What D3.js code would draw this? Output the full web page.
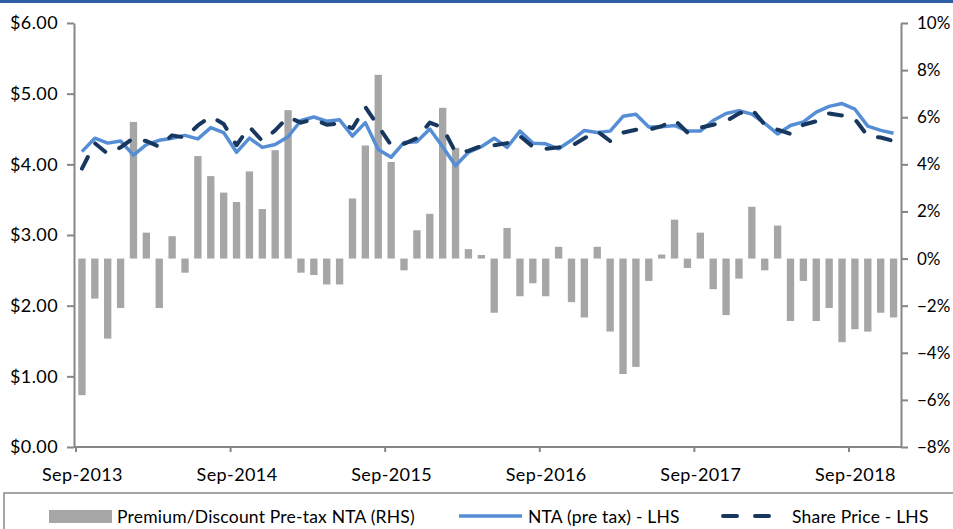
<!DOCTYPE html>
<html>
<head>
<meta charset="utf-8">
<script src="https://cdn.jsdelivr.net/npm/d3@7"></script>
<style>
  html, body { margin: 0; padding: 0; background: #fff; }
  svg { display: block; }
  text { font-family: Lato, "Open Sans", sans-serif; fill: #000; }
</style>
</head>
<body>
<svg id="chart" width="953" height="529"></svg>
<script>
const months = [
  "Sep-2013","Oct-2013","Nov-2013","Dec-2013",
  "Jan-2014","Feb-2014","Mar-2014","Apr-2014","May-2014","Jun-2014","Jul-2014","Aug-2014","Sep-2014","Oct-2014","Nov-2014","Dec-2014",
  "Jan-2015","Feb-2015","Mar-2015","Apr-2015","May-2015","Jun-2015","Jul-2015","Aug-2015","Sep-2015","Oct-2015","Nov-2015","Dec-2015",
  "Jan-2016","Feb-2016","Mar-2016","Apr-2016","May-2016","Jun-2016","Jul-2016","Aug-2016","Sep-2016","Oct-2016","Nov-2016","Dec-2016",
  "Jan-2017","Feb-2017","Mar-2017","Apr-2017","May-2017","Jun-2017","Jul-2017","Aug-2017","Sep-2017","Oct-2017","Nov-2017","Dec-2017",
  "Jan-2018","Feb-2018","Mar-2018","Apr-2018","May-2018","Jun-2018","Jul-2018","Aug-2018","Sep-2018","Oct-2018","Nov-2018","Dec-2018"
];

// Premium/Discount to pre-tax NTA (%)
const premium = [
  -5.8, -1.7, -3.4, -2.1, 5.8, 1.1, -2.1, 0.95, -0.6, 4.35, 3.5, 2.8,
  2.4, 3.7, 2.1, 4.6, 6.3, -0.6, -0.7, -1.1, -1.1, 2.55, 4.8, 7.8,
  4.1, -0.5, 1.2, 1.9, 6.4, 4.7, 0.4, 0.15, -2.3, 1.3, -1.6, -1.05,
  -1.6, 0.5, -1.85, -2.5, 0.5, -3.1, -4.9, -4.6, -0.95, 0.17, 1.65, -0.4,
  1.1, -1.3, -2.4, -0.85, 2.2, -0.5, 1.4, -2.65, -0.95, -2.65, -2.1, -3.55,
  -3.0, -3.1, -2.3, -2.5
];

// NTA (pre tax) $
const nta = [
  4.18, 4.37, 4.30, 4.33, 4.13, 4.28, 4.34, 4.37, 4.41, 4.36, 4.52, 4.45,
  4.17, 4.37, 4.24, 4.28, 4.39, 4.62, 4.67, 4.61, 4.63, 4.40, 4.59, 4.21,
  4.10, 4.31, 4.32, 4.50, 4.25, 3.98, 4.17, 4.25, 4.37, 4.24, 4.47, 4.30,
  4.29, 4.22, 4.34, 4.48, 4.45, 4.47, 4.68, 4.71, 4.53, 4.53, 4.55, 4.47,
  4.47, 4.62, 4.72, 4.76, 4.71, 4.58, 4.43, 4.55, 4.60, 4.74, 4.82, 4.86,
  4.78, 4.54, 4.48, 4.44
];

// Share price $
const sharePrice = [
  3.94, 4.30, 4.15, 4.24, 4.37, 4.33, 4.25, 4.41, 4.38, 4.55, 4.68, 4.57,
  4.27, 4.53, 4.33, 4.48, 4.67, 4.59, 4.64, 4.56, 4.58, 4.51, 4.81, 4.54,
  4.27, 4.29, 4.37, 4.59, 4.52, 4.17, 4.19, 4.26, 4.27, 4.30, 4.40, 4.25,
  4.22, 4.24, 4.26, 4.37, 4.47, 4.33, 4.45, 4.49, 4.49, 4.54, 4.63, 4.45,
  4.52, 4.56, 4.61, 4.72, 4.78, 4.56, 4.49, 4.43, 4.56, 4.61, 4.72, 4.69,
  4.64, 4.40, 4.38, 4.33
];

const xTickLabels = ["Sep-2013","Sep-2014","Sep-2015","Sep-2016","Sep-2017","Sep-2018"];
const leftTicks = [0, 1, 2, 3, 4, 5, 6];
const rightTicks = [-0.08, -0.06, -0.04, -0.02, 0, 0.02, 0.04, 0.06, 0.08, 0.10];

const legendLabels = ["Premium/Discount Pre-tax NTA (RHS)", "NTA (pre tax) - LHS", "Share Price - LHS"];

// ---- layout ----
const W = 953, H = 529;
const plotL = 74, plotR = 901, plotT = 23, plotB = 447;
const colBar = "#A6A6A6", colNta = "#558ED5", colSp = "#17375E", colAxis = "#868686";

const svg = d3.select("#chart");

// top blue rule
svg.append("rect").attr("x", 0).attr("y", 0).attr("width", W).attr("height", 3).attr("fill", "#2E5EA6");

const x = d3.scaleLinear().domain([0, months.length]).range([plotL + 1.5, plotR - 1]);
const step = x(1) - x(0);
const bw = step * 0.57;
const yL = d3.scaleLinear().domain([0, 6]).range([plotB, plotT]);
const yR = d3.scaleLinear().domain([-0.08, 0.10]).range([plotB, plotT]);

const g = svg.append("g");

// bars
g.selectAll("rect.bar").data(premium).join("rect")
  .attr("class", "bar")
  .attr("x", (d, i) => x(i + 0.5) - bw / 2)
  .attr("width", bw)
  .attr("y", d => yR(Math.max(0, d / 100)))
  .attr("height", d => Math.abs(yR(d / 100) - yR(0)))
  .attr("fill", colBar);

// axes
function styleAxis(sel, size, ls) {
  sel.selectAll("path.domain").attr("stroke", colAxis).attr("stroke-width", 2);
  sel.selectAll(".tick line").attr("stroke", colAxis).attr("stroke-width", 2);
  sel.selectAll("text").attr("font-size", size).attr("letter-spacing", ls)
    .attr("font-family", "Lato, 'Open Sans', sans-serif").attr("fill", "#000");
}

const axL = d3.axisLeft(yL).tickValues(leftTicks).tickSize(7).tickPadding(9)
  .tickFormat(d => "$" + d.toFixed(2)).tickSizeOuter(0);
const gL = svg.append("g").attr("transform", `translate(${plotL},0)`).call(axL);
styleAxis(gL, 18, "0.4px");

const axR = d3.axisRight(yR).tickValues(rightTicks).tickSize(7).tickPadding(9)
  .tickFormat(d3.format(".0%")).tickSizeOuter(0);
const gR = svg.append("g").attr("transform", `translate(${plotR},0)`).call(axR);
styleAxis(gR, 17, "0px");

// x axis line + ticks at category boundaries, labels at category centre
const xLine = d3.scaleLinear().domain([0, 1]).range([plotL, plotR]);
const gX = svg.append("g").attr("transform", `translate(0,${plotB})`);
gX.append("line").attr("x1", xLine(0)).attr("x2", xLine(1)).attr("stroke", colAxis).attr("stroke-width", 2);
const tickIdx = xTickLabels.map(l => months.indexOf(l));
const axXTicks = d3.axisBottom(x).tickValues(tickIdx).tickSize(5).tickFormat("").tickSizeOuter(0);
const gXT = gX.append("g").call(axXTicks);
gXT.select("path.domain").remove();
styleAxis(gXT, 18, "0.4px");
const axXLab = d3.axisBottom(x).tickValues(tickIdx.map(i => i + 0.5)).tickSize(0).tickPadding(21)
  .tickFormat(d => months[Math.floor(d)]).tickSizeOuter(0);
const gXL = gX.append("g").call(axXLab);
gXL.select("path.domain").remove();
styleAxis(gXL, 18, "0.4px");

// lines
const lineGen = d3.line().x((d, i) => x(i + 0.5)).y(d => yL(d));
g.append("path").datum(nta).attr("d", lineGen)
  .attr("fill", "none").attr("stroke", colNta).attr("stroke-width", 3.5).attr("stroke-linejoin", "round");
g.append("path").datum(sharePrice).attr("d", lineGen)
  .attr("fill", "none").attr("stroke", colSp).attr("stroke-width", 4)
  .attr("stroke-linecap", "round").attr("stroke-linejoin", "round")
  .attr("stroke-dasharray", "13,16");

// legend
svg.append("rect").attr("x", 4).attr("y", 493).attr("width", W + 10).attr("height", 60)
  .attr("fill", "#fff").attr("stroke", colAxis).attr("stroke-width", 1.5);
const lg = svg.append("g");
const ly = 517;
function legText(xp, t) {
  lg.append("text").attr("x", xp).attr("y", ly).attr("dy", "0.35em")
    .attr("font-size", 17.5).attr("letter-spacing", "0.2px").text(t);
}
lg.append("rect").attr("x", 49).attr("y", ly - 7).attr("width", 63).attr("height", 13).attr("fill", colBar);
legText(117, legendLabels[0]);
lg.append("line").attr("x1", 459).attr("x2", 522).attr("y1", ly - 1).attr("y2", ly - 1)
  .attr("stroke", colNta).attr("stroke-width", 3.5);
legText(528, legendLabels[1]);
lg.append("line").attr("x1", 723).attr("x2", 775).attr("y1", ly - 1).attr("y2", ly - 1)
  .attr("stroke", colSp).attr("stroke-width", 4).attr("stroke-linecap", "round").attr("stroke-dasharray", "14,18");
legText(792, legendLabels[2]);
</script>
</body>
</html>
